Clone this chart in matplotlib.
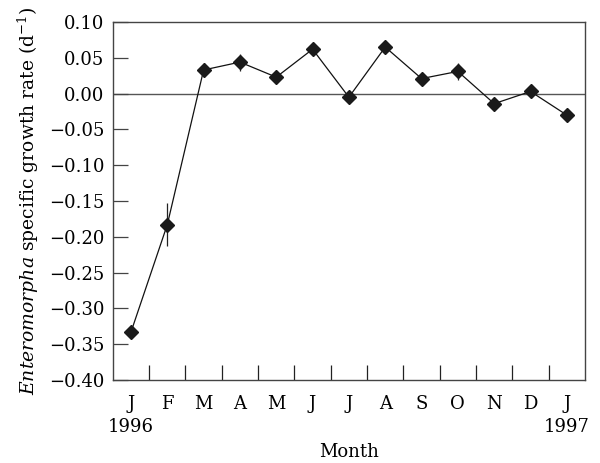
import matplotlib.pyplot as plt

plt.rcParams['font.family'] = ['DejaVu Serif']
plt.rcParams['mathtext.fontset'] = 'dejavuserif'

# Mois (janvier 1996 à janvier 1997)
mois = ['J', 'F', 'M', 'A', 'M', 'J', 'J', 'A', 'S', 'O', 'N', 'D', 'J']

# Taux de croissance spécifique (d-1) et erreurs
croissance = [-0.333, -0.183, 0.033, 0.044, 0.023, 0.062, -0.005, 0.065,
              0.021, 0.031, -0.014, 0.003, -0.030]
erreurs = [0.004, 0.030, 0.010, 0.012, 0.007, 0.008, 0.006, 0.006,
           0.005, 0.012, 0.004, 0.004, 0.004]

# Graduations de l'axe y
graduations_y = [0.10 - 0.05 * i for i in range(11)]

positions = list(range(len(mois)))

fig = plt.figure(figsize=(6, 4.63), dpi=100)
ax = fig.add_axes([0.188, 0.179, 0.787, 0.7735])

ax.axhline(0, color='#555555', linewidth=1.0, zorder=1)
ax.errorbar(positions, croissance, yerr=erreurs, fmt='none', ecolor='#222222',
            elinewidth=0.9, capsize=0, zorder=2)
ax.plot(positions, croissance, color='#111111', linewidth=0.9, marker='D',
        markersize=7.5, markerfacecolor='#1a1a1a', markeredgecolor='#1a1a1a', zorder=3)

ax.set_xlim(-0.5, len(mois) - 0.5)
ax.set_ylim(-0.40, 0.10)

ax.set_yticks(graduations_y)
ax.set_yticklabels(['%.2f' % v if v >= -1e-9 else '\u2212%.2f' % abs(v)
                    for v in graduations_y])
ax.yaxis.set_tick_params(direction='in', length=11, width=0.9, labelsize=13,
                         color='#444444', pad=6)

ax.set_xticks(positions)
ax.set_xticklabels(mois)
ax.set_xticks([p + 0.5 for p in positions[:-1]], minor=True)
ax.xaxis.set_tick_params(which='major', length=0, labelsize=13, pad=11)
ax.xaxis.set_tick_params(which='minor', direction='in', length=11, width=0.9,
                         color='#222222')

for s in ax.spines.values():
    s.set_color('#444444')
    s.set_linewidth(1.0)

ax.text(0, -0.466, '1996', ha='center', va='center', fontsize=13)
ax.text(12, -0.466, '1997', ha='center', va='center', fontsize=13)
ax.text(6, -0.501, 'Month', ha='center', va='center', fontsize=13)

ax.set_ylabel(r'$\it{Enteromorpha}$ specific growth rate (d$^{-1}$)', fontsize=13.5,
              labelpad=6)

fig.savefig('out.png', dpi=100)
